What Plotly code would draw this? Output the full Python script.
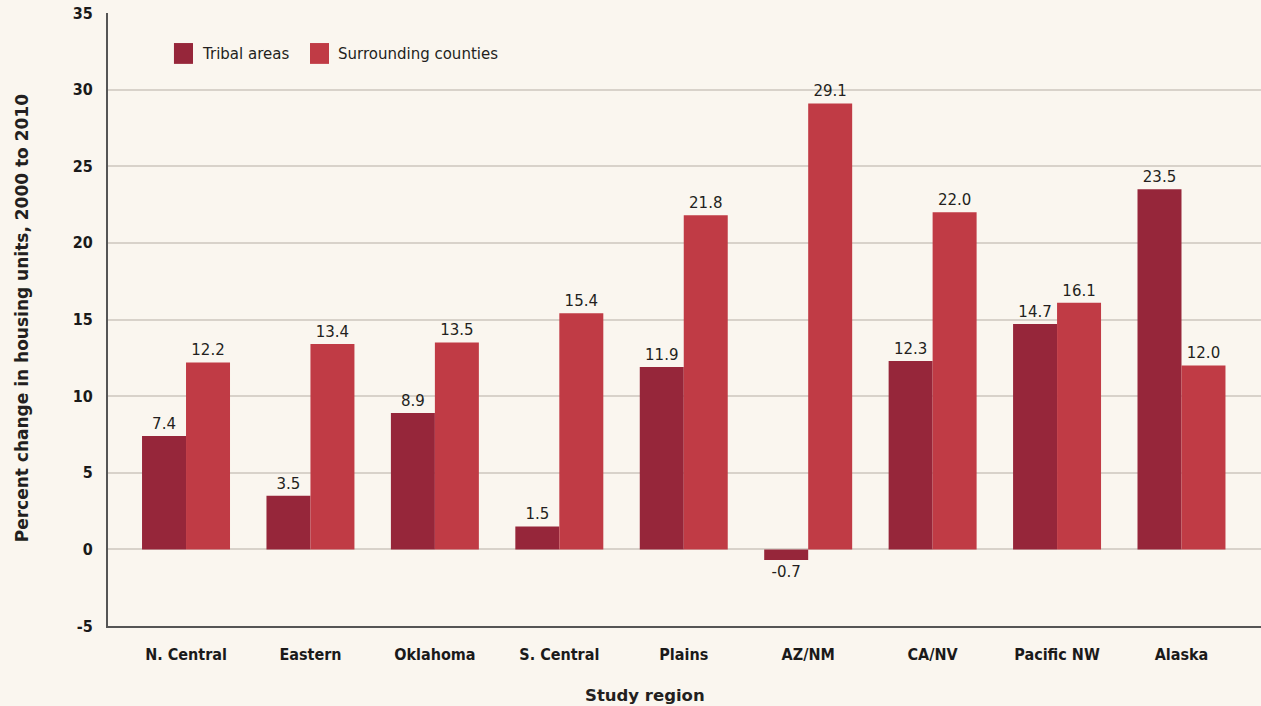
import plotly.graph_objects as go

regions = ["N. Central", "Eastern", "Oklahoma", "S. Central", "Plains",
           "AZ/NM", "CA/NV", "Pacific NW", "Alaska"]
tribal_areas = [7.4, 3.5, 8.9, 1.5, 11.9, -0.7, 12.3, 14.7, 23.5]
surrounding_counties = [12.2, 13.4, 13.5, 15.4, 21.8, 29.1, 22.0, 16.1, 12.0]
y_ticks = [-5, 0, 5, 10, 15, 20, 25, 30, 35]
y_tick_labels = ["-5", "0", "5", "10", "15", "20", "25", "30", "35"]

BG = "#FAF6EF"
DARK_RED = "#96263A"
RED = "#C03B45"
TEXT = "#231F20"
LABEL_FONT = "DejaVu Sans"
TICK_FONT = "DejaVu Sans"

fig = go.Figure()

fig.add_trace(
    go.Bar(
        x=regions,
        y=tribal_areas,
        name="Tribal areas",
        marker=dict(color=DARK_RED, line=dict(width=0)),
        text=[f"{v:.1f}" for v in tribal_areas],
        textposition="outside",
        textfont=dict(family=LABEL_FONT, size=15, color=TEXT),
        cliponaxis=False
    )
)

fig.add_trace(
    go.Bar(
        x=regions,
        y=surrounding_counties,
        name="Surrounding counties",
        marker=dict(color=RED, line=dict(width=0)),
        text=[f"{v:.1f}" for v in surrounding_counties],
        textposition="outside",
        textfont=dict(family=LABEL_FONT, size=15, color=TEXT),
        cliponaxis=False
    )
)

# Legend swatches drawn by hand so they match the larger squares
legend_items = [("Tribal areas", DARK_RED, 0.0572), ("Surrounding counties", RED, 0.1752)]
for label, color, x0 in legend_items:
    fig.add_shape(
        type="rect",
        xref="paper", yref="paper",
        x0=x0, x1=x0 + 0.0165,
        y0=0.917, y1=0.951,
        fillcolor=color,
        line_width=0
    )
    fig.add_annotation(
        xref="paper", yref="paper",
        x=x0 + 0.0225, y=0.933,
        text=label,
        showarrow=False,
        xanchor="left",
        yanchor="middle",
        font=dict(family=LABEL_FONT, size=15, color=TEXT)
    )

# Axis titles
fig.add_annotation(
    xref="paper", yref="paper",
    x=-0.0746, y=0.502,
    text="<b>Percent change in housing units, 2000 to 2010</b>",
    textangle=-90,
    showarrow=False,
    xanchor="center",
    yanchor="middle",
    font=dict(family=LABEL_FONT, size=17, color=TEXT)
)
fig.add_annotation(
    xref="paper", yref="paper",
    x=0.466, y=-0.1126,
    text="<b>Study region</b>",
    showarrow=False,
    xanchor="center",
    yanchor="middle",
    font=dict(family=LABEL_FONT, size=16.5, color=TEXT)
)

fig.update_layout(
    width=1261,
    height=706,
    barmode="group",
    bargap=0.293,
    bargroupgap=0,
    showlegend=False,
    paper_bgcolor=BG,
    plot_bgcolor=BG,
    margin=dict(
        l=108,
        r=0,
        t=13,
        b=80
    ),
    xaxis=dict(
        range=[-0.627, 8.639],
        showgrid=False,
        showline=True,
        linecolor="#555555",
        linewidth=2,
        ticks="",
        ticklabelstandoff=13,
        tickfont=dict(family=TICK_FONT, size=16, color="#1A1A1A", weight="bold")
    ),
    yaxis=dict(
        range=[-5, 35],
        tickvals=y_ticks,
        ticktext=y_tick_labels,
        showgrid=True,
        gridcolor="#D8D2CA",
        gridwidth=2,
        zeroline=True,
        zerolinecolor="#D8D2CA",
        zerolinewidth=2,
        showline=True,
        linecolor="#555555",
        linewidth=2,
        ticks="",
        ticklabelstandoff=10,
        tickfont=dict(family=TICK_FONT, size=16, color="#1A1A1A", weight="bold")
    )
)

# Condensed face for the tick labels, no page margin around the chart
post_js = (
    "document.body.style.margin='0';"
    "document.body.style.overflow='hidden';"
    "var s=document.createElement('style');"
    "s.textContent='.xtick text,.ytick text{font-stretch:condensed !important;}';"
    "document.head.appendChild(s);"
)

fig.write_html(
    "out.html",
    config={"displayModeBar": False},
    post_script=post_js
)
